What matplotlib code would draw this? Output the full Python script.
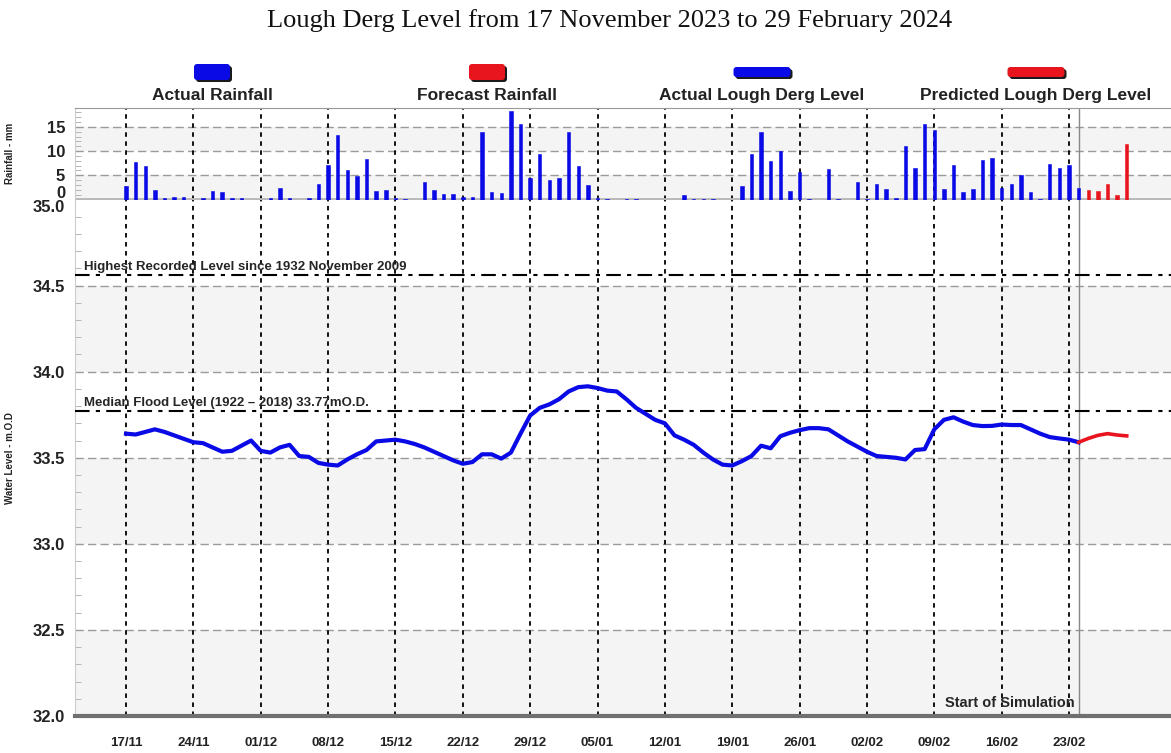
import matplotlib
matplotlib.use("Agg")
import matplotlib.pyplot as plt
import matplotlib.transforms as mtransforms
from matplotlib.patches import FancyBboxPatch

# day 0 = 17 Nov 2023
rain_days = list(range(0, 105))
rain_mm = [
    2.7, 7.7, 7.0, 2.0, 0.35, 0.6, 0.55, 0.0, 0.3, 1.7,
    1.6, 0.3, 0.3, 0.0, 0.0, 0.3, 2.3, 0.3, 0.0, 0.3,
    3.2, 7.2, 13.4, 6.0, 4.8, 8.4, 1.7, 2.0, 0.3, 0.15,
    0.0, 3.6, 2.0, 1.2, 1.2, 0.5, 0.5, 13.9, 1.5, 1.3,
    18.2, 15.5, 4.5, 9.4, 4.1, 4.5, 13.9, 7.0, 2.9, 0.3,
    0.2, 0.0, 0.2, 0.2, 0.0, 0.0, 0.0, 0.0, 1.0, 0.2,
    0.2, 0.2, 0.0, 0.0, 2.8, 9.3, 13.9, 7.9, 10.1, 1.7,
    5.7, 0.2, 0.0, 6.3, 0.2, 0.0, 3.6, 0.2, 3.2, 2.1,
    0.35, 11.1, 6.6, 15.5, 14.3, 2.2, 7.2, 1.5, 2.2, 8.1,
    8.6, 2.4, 3.1, 5.0, 1.5, 0.2, 7.4, 6.6, 7.2, 2.4,
    1.9, 1.7, 3.1, 1.0, 11.5,
]
forecast_from = 100  # first day of forecast rainfall

level_days = list(range(0, 100))
level_actual = [
    33.640, 33.635, 33.650, 33.665, 33.650, 33.630, 33.610, 33.590, 33.585, 33.560,
    33.535, 33.540, 33.570, 33.600, 33.540, 33.530, 33.560, 33.575, 33.510, 33.505,
    33.470, 33.460, 33.455, 33.490, 33.520, 33.545, 33.595, 33.600, 33.605, 33.595,
    33.580, 33.560, 33.535, 33.510, 33.485, 33.465, 33.475, 33.520, 33.520, 33.495,
    33.530, 33.640, 33.745, 33.790, 33.810, 33.840, 33.885, 33.910, 33.915, 33.905,
    33.890, 33.885, 33.840, 33.790, 33.755, 33.720, 33.700, 33.630, 33.605, 33.575,
    33.530, 33.490, 33.460, 33.455, 33.480, 33.510, 33.570, 33.555, 33.625, 33.645,
    33.660, 33.672, 33.672, 33.665, 33.630, 33.595, 33.565, 33.535, 33.510, 33.505,
    33.500, 33.490, 33.545, 33.550, 33.665, 33.720, 33.735, 33.710, 33.690, 33.684,
    33.685, 33.693, 33.690, 33.690, 33.665, 33.640, 33.620, 33.612, 33.605, 33.590,
]
pred_days = [99, 100, 101, 102, 103, 104]
level_pred = [33.590, 33.612, 33.630, 33.640, 33.632, 33.627]

week_days = [0, 7, 14, 21, 28, 35, 42, 49, 56, 63, 70, 77, 84, 91, 98]
week_labels = ["17/11", "24/11", "01/12", "08/12", "15/12", "22/12", "29/12", "05/01",
               "12/01", "19/01", "26/01", "02/02", "09/02", "16/02", "23/02"]
sim_start = 99.0
highest_level = 34.56
median_flood = 33.77

BLUE = "#0a0ae6"
RED = "#e8141e"
sans = ["Liberation Sans", "DejaVu Sans"]

W, H = 1171, 753
fig = plt.figure(figsize=(W / 100, H / 100), dpi=100)
fig.patch.set_facecolor("white")

left = 75 / W
width = 1 - left
x_lo, x_hi = -5.3, 108.6
ax_r = fig.add_axes([left, (H - 199.5) / H, width, (199.5 - 108) / H])
ax_l = fig.add_axes([left, (H - 716) / H, width, (716 - 199.5) / H])

band = "#f4f4f4"
grid_kw = dict(color="#9a9a9a", lw=1.0, ls=(0, (6, 3)), zorder=1)
vgrid_kw = dict(color="black", lw=1.3, ls=(0, (2.5, 2.5)), zorder=2)


def style_ticklabels(labels, size):
    for lab in labels:
        lab.set_fontfamily(sans)
        lab.set_fontweight("bold")
        lab.set_fontsize(size)
        lab.set_color("#222222")


def nudge(label, dy_px):
    label.set_transform(label.get_transform() +
                        mtransforms.ScaledTranslation(0, dy_px / 100, fig.dpi_scale_trans))


# rainfall panel
ax_r.set_xlim(x_lo, x_hi)
ax_r.set_ylim(0, 18.9)
for lo, hi in [(0, 5), (10, 15)]:
    ax_r.axhspan(lo, hi, color=band, lw=0, zorder=0)
for v in [5, 10, 15]:
    ax_r.axhline(v, **grid_kw)
for d in week_days:
    ax_r.axvline(d, **vgrid_kw)
ax_r.axvline(sim_start, color="#888888", lw=1.0, zorder=2)
bar_cols = [BLUE if d < forecast_from else RED for d in rain_days]
ax_r.bar(rain_days, rain_mm, width=0.36, color=bar_cols, edgecolor=bar_cols,
         lw=0.4, zorder=3)
ax_r.axhline(0, color="#b8b8b8", lw=3.5, zorder=2)
ax_r.set_yticks([0, 5, 10, 15])
ax_r.set_yticks(range(0, 19), minor=True)
ax_r.set_xticks([])
ax_r.tick_params(axis="y", which="major", length=0, pad=7)
ax_r.tick_params(axis="y", which="minor", length=4, direction="in", color="#aaaaaa")
style_ticklabels(ax_r.get_yticklabels(), 12)
# zero and 35.0 share a height; push them apart
nudge(ax_r.get_yticklabels()[0], 8)
for s in ["right", "bottom"]:
    ax_r.spines[s].set_visible(False)
ax_r.spines["top"].set_color("#999999")
ax_r.spines["left"].set_color("#cccccc")
ax_r.set_ylabel("Rainfall - mm", fontsize=7, fontweight="bold", family=sans,
                color="#222222")

# water level panel
ax_l.set_xlim(x_lo, x_hi)
ax_l.set_ylim(32.0, 35.0)
for lo, hi in [(32.0, 32.5), (33.0, 33.5), (34.0, 34.5)]:
    ax_l.axhspan(lo, hi, color=band, lw=0, zorder=0)
for v in [32.5, 33.0, 33.5, 34.0, 34.5]:
    ax_l.axhline(v, **grid_kw)
for d in week_days:
    ax_l.axvline(d, **vgrid_kw)
ax_l.axvline(sim_start, color="#888888", lw=1.0, zorder=2)
ref_kw = dict(color="black", lw=1.5, ls=(0, (7, 3, 2, 3)), zorder=3)
ax_l.axhline(highest_level, **ref_kw)
ax_l.axhline(median_flood, **ref_kw)
ax_l.plot(level_days, level_actual, color=BLUE, lw=3.0, zorder=4,
          solid_joinstyle="round")
ax_l.plot(pred_days, level_pred, color=RED, lw=2.6, zorder=4,
          solid_joinstyle="round")

txt_kw = dict(fontweight="bold", family=sans, color="#262626", zorder=5)
ax_l.text(0.008, highest_level + 0.012, "Highest Recorded Level since 1932 November 2009",
          transform=ax_l.get_yaxis_transform(), va="bottom", ha="left",
          fontsize=9.5, **txt_kw)
ax_l.text(0.008, median_flood + 0.012, "Median Flood Level (1922 \u2013 2018) 33.77mO.D.",
          transform=ax_l.get_yaxis_transform(), va="bottom", ha="left",
          fontsize=9.5, **txt_kw)
ax_l.text(sim_start - 0.4, 32.075, "Start of Simulation", ha="right", va="center",
          fontsize=10.5, **txt_kw)

ax_l.set_yticks([32.0, 32.5, 33.0, 33.5, 34.0, 34.5, 35.0])
ax_l.set_yticklabels(["32.0", "32.5", "33.0", "33.5", "34.0", "34.5", "35.0"])
ax_l.set_yticks([32 + 0.1 * i for i in range(31)], minor=True)
ax_l.set_xticks(week_days)
ax_l.set_xticklabels(week_labels)
ax_l.tick_params(axis="y", which="major", length=0, pad=7)
ax_l.tick_params(axis="y", which="minor", length=4, direction="in", color="#aaaaaa")
ax_l.tick_params(axis="x", length=0, pad=15)
style_ticklabels(ax_l.get_yticklabels(), 12)
style_ticklabels(ax_l.get_xticklabels(), 9.5)
nudge(ax_l.get_yticklabels()[-1], -7)
ax_l.spines["top"].set_visible(False)
ax_l.spines["right"].set_visible(False)
ax_l.spines["left"].set_color("#cccccc")
ax_l.spines["bottom"].set_color("#707070")
ax_l.spines["bottom"].set_linewidth(3)
ax_l.set_ylabel("Water Level - m.O.D", fontsize=7, fontweight="bold", family=sans,
                color="#222222")
ax_l.yaxis.set_label_coords(-0.055, 0.5)
ax_r.yaxis.set_label_coords(-0.055, 0.5)

# title and legend drawn in pixel space
ov = fig.add_axes([0, 0, 1, 1], facecolor="none")
ov.set_xlim(0, W)
ov.set_ylim(H, 0)
ov.axis("off")
ov.text(610, 21, "Lough Derg Level from 17 November 2023 to 29 February 2024",
        ha="center", va="center", fontsize=19, family=["Liberation Serif", "DejaVu Serif"],
        color="#111111")

legend_items = [
    ("Actual Rainfall", BLUE, 212, 36, 16),
    ("Forecast Rainfall", RED, 487, 36, 16),
    ("Actual Lough Derg Level", BLUE, 762, 57, 10),
    ("Predicted Lough Derg Level", RED, 1036, 57, 10),
]
for label, col, cx, bw, bh in legend_items:
    y_mid = 72
    shadow = FancyBboxPatch((cx - bw / 2 + 2, y_mid - bh / 2 + 2), bw, bh,
                            boxstyle="round,pad=0,rounding_size=3",
                            fc="#1a1a1a", ec="none", zorder=1)
    box = FancyBboxPatch((cx - bw / 2, y_mid - bh / 2), bw, bh,
                         boxstyle="round,pad=0,rounding_size=3",
                         fc=col, ec="none", zorder=2)
    ov.add_patch(shadow)
    ov.add_patch(box)
    ov.text(cx, 95, label, ha="center", va="center", fontsize=12.5,
            fontweight="bold", family=sans, color="#222222")

fig.savefig("out.png", dpi=100)
